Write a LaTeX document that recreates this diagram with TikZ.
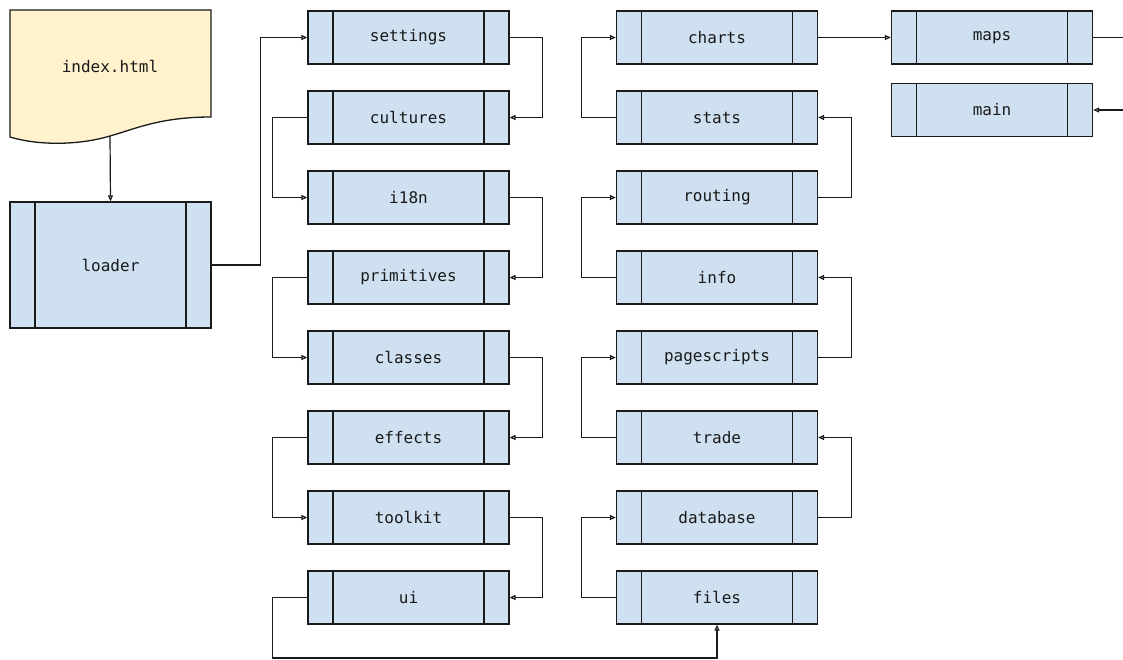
\documentclass[tikz,border=0pt]{standalone}
\usepackage{fontspec}
\setmonofont{DejaVu Sans Mono}
\usetikzlibrary{arrows.meta}
\definecolor{boxfill}{HTML}{CFE0F1}
\definecolor{docfill}{HTML}{FFF2CC}
\definecolor{ink}{HTML}{1A1A1A}
\begin{document}
\begin{tikzpicture}[x=1pt,y=-1pt,
  proc/.style={draw=ink, fill=boxfill, line width=1.3pt, minimum width=201pt, minimum height=53pt,
    inner sep=0pt, font=\ttfamily\fontsize{16}{18}\selectfont, text=ink,
    path picture={\draw[ink, line width=1.3pt]
      ([xshift=25pt]path picture bounding box.north west) -- ([xshift=25pt]path picture bounding box.south west)
      ([xshift=-25pt]path picture bounding box.north east) -- ([xshift=-25pt]path picture bounding box.south east);}},
  conn/.style={draw=ink, line width=1.2pt, -{Triangle[open, length=6pt, width=5pt]}},
  plain/.style={draw=ink, line width=1.2pt}]
\useasboundingbox (0,0) rectangle (1123,659);
% document shape
\path[draw=ink, fill=docfill, line width=1.3pt] (10,10) -- (211,10) -- (211,117)
  .. controls (160,117) and (135,129) .. (110,136)
  .. controls (80,145) and (40,146) .. (10,137) -- cycle;
\node[font=\ttfamily\fontsize{16}{18}\selectfont, text=ink] (index) at (110,66) {index.html};
\coordinate (indexbot) at (110,136);
% loader
\node[proc, minimum height=126pt] (loader) at (110.5,265) {loader};
% column 1
\node[proc] (settings) at (408.5,37.5) {settings};
\node[proc] (cultures) at (408.5,117.5) {cultures};
\node[proc] (i18n) at (408.5,197.5) {i18n};
\node[proc] (primitives) at (408.5,277.5) {primitives};
\node[proc] (classes) at (408.5,357.5) {classes};
\node[proc] (effects) at (408.5,437.5) {effects};
\node[proc] (toolkit) at (408.5,517.5) {toolkit};
\node[proc] (ui) at (408.5,597.5) {ui};
% column 2
\node[proc] (charts) at (717,37.5) {charts};
\node[proc] (stats) at (717,117.5) {stats};
\node[proc] (routing) at (717,197.5) {routing};
\node[proc] (info) at (717,277.5) {info};
\node[proc] (pagescripts) at (717,357.5) {pagescripts};
\node[proc] (trade) at (717,437.5) {trade};
\node[proc] (database) at (717,517.5) {database};
\node[proc] (files) at (717,597.5) {files};
% column 3
\node[proc] (maps) at (992,37.5) {maps};
\node[proc] (main) at (992,110) {main};
\coordinate (mapsout) at (1123,37.5);
\coordinate (mainin) at (1123,110);
% connectors
\draw[conn] (indexbot) -- (loader.north);
\draw[conn] (loader.east) -- ++(49,0) |- (settings.west);
\draw[conn] (settings.east) -- ++(33,0) |- (cultures.east);
\draw[conn] (cultures.west) -- ++(-35,0) |- (i18n.west);
\draw[conn] (i18n.east) -- ++(33,0) |- (primitives.east);
\draw[conn] (primitives.west) -- ++(-35,0) |- (classes.west);
\draw[conn] (classes.east) -- ++(33,0) |- (effects.east);
\draw[conn] (effects.west) -- ++(-35,0) |- (toolkit.west);
\draw[conn] (toolkit.east) -- ++(33,0) |- (ui.east);
\draw[conn] (ui.west) -- ++(-35,0) -- ++(0,60.5) -| (files.south);
\draw[conn] (files.west) -- ++(-34,0) |- (database.west);
\draw[conn] (database.east) -- ++(33,0) |- (trade.east);
\draw[conn] (trade.west) -- ++(-34,0) |- (pagescripts.west);
\draw[conn] (pagescripts.east) -- ++(33,0) |- (info.east);
\draw[conn] (info.west) -- ++(-34,0) |- (routing.west);
\draw[conn] (routing.east) -- ++(33,0) |- (stats.east);
\draw[conn] (stats.west) -- ++(-34,0) |- (charts.west);
\draw[conn] (charts.east) -- (maps.west);
\draw[plain] (maps.east) -- (mapsout);
\draw[conn] (mainin) -- (main.east);
\end{tikzpicture}
\end{document}
